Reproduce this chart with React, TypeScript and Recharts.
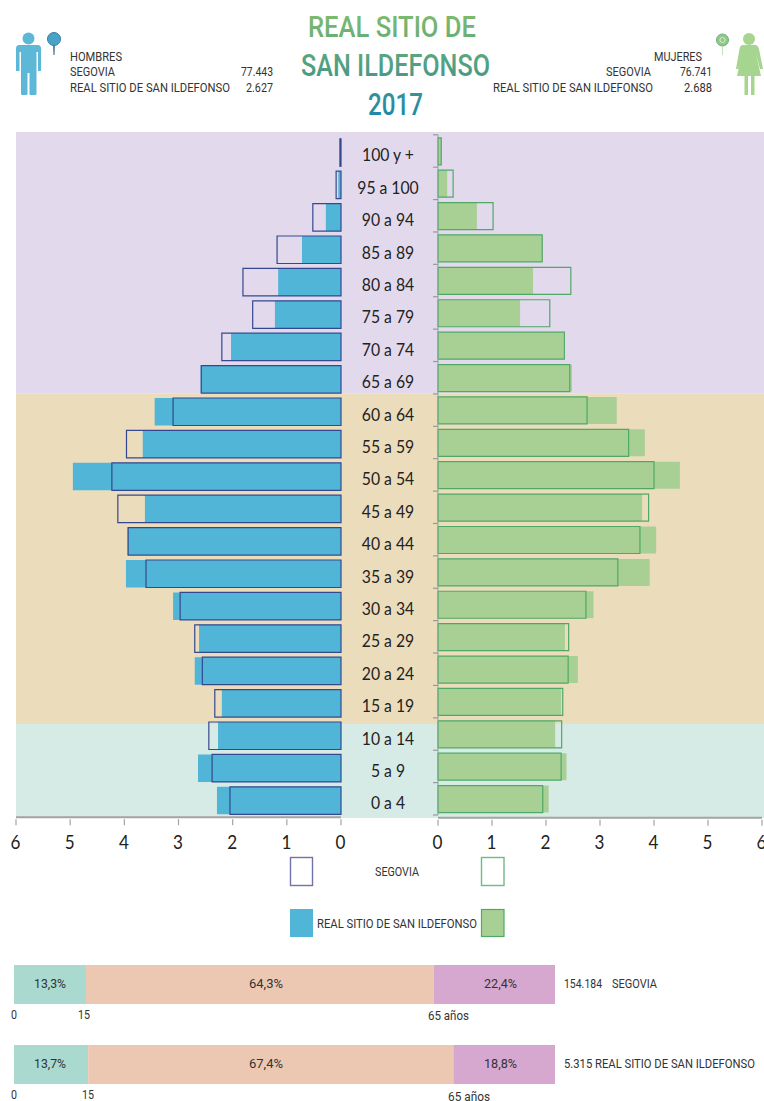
import React from 'react';
import { BarChart, Bar, XAxis, YAxis, ReferenceArea, ComposedChart } from 'recharts';

const AGES = ['100 y +','95 a 100','90 a 94','85 a 89','80 a 84','75 a 79','70 a 74','65 a 69','60 a 64','55 a 59','50 a 54','45 a 49','40 a 44','35 a 39','30 a 34','25 a 29','20 a 24','15 a 19','10 a 14','5 a 9','0 a 4'];
const MEN_LOCAL = [0.01,0.05,0.28,0.72,1.16,1.22,2.03,2.59,3.44,3.66,4.95,3.62,3.94,3.97,3.1,2.62,2.7,2.2,2.27,2.64,2.29];
const MEN_PROV = [0.02,0.09,0.52,1.18,1.81,1.63,2.2,2.58,3.1,3.96,4.23,4.12,3.93,3.6,2.97,2.7,2.56,2.33,2.44,2.38,2.05];
const WOMEN_LOCAL = [0.06,0.17,0.72,1.93,1.76,1.52,2.33,2.48,3.31,3.83,4.48,3.78,4.04,3.92,2.88,2.35,2.59,2.28,2.17,2.38,2.05];
const WOMEN_PROV = [0.06,0.28,1.02,1.93,2.46,2.07,2.34,2.44,2.76,3.53,4.0,3.9,3.74,3.33,2.74,2.42,2.41,2.31,2.29,2.28,1.94];
const X_TICKS = [0,1,2,3,4,5,6];
const BAND_EDGES = [0,2.88,13,21];
const BAND_COLORS = ['#d7ebe6','#ebdcbc','#e2daec'];
const STRUCT_NAMES = ['SEGOVIA','REAL SITIO'];
const STRUCT_YOUNG = [13.3,13.7];
const STRUCT_ADULT = [64.3,67.5];
const STRUCT_OLD = [22.4,18.8];
const STRUCT_LABELS = [['13,3%','64,3%','22,4%'],['13,7%','67,4%','18,8%']];

const pyramid = (a: number[], b: number[]) => AGES.map((age, i) => ({ age, local: a[i], prov: b[i] }));
const menData = pyramid(MEN_LOCAL, MEN_PROV);
const womenData = pyramid(WOMEN_LOCAL, WOMEN_PROV);
const structData = STRUCT_NAMES.map((name, i) => ({ name, young: STRUCT_YOUNG[i], adult: STRUCT_ADULT[i], old: STRUCT_OLD[i] }));
const bandData = [{ x: 0 }, { x: 1 }];

const FONT = 'Roboto, sans-serif';
const NUM = 'Lato, sans-serif';
const full = { position: 'absolute' as const };

function T({ x1, x2, y, s, c = '#333', w = 400, children, fill }: any) {
  return <text x={x1} y={y} fontFamily={FONT} fontSize={s} fontWeight={w} fill={fill || c} textLength={x2 - x1} lengthAdjust="spacingAndGlyphs">{children}</text>;
}

const bottomTick = (shift: number) => (p: any) => (
  <g>
    <line x1={p.x} x2={p.x} y1={p.y + shift} y2={p.y + shift + 6} stroke="#a3a3a3" strokeWidth={1.2} />
    <text transform={`translate(${p.x - 0.5},849) scale(0.9,1)`} textAnchor="middle" fontFamily={NUM} fontSize={19} fill="#222">{p.payload.value}</text>
  </g>
);

const BAND = 680 / 21;
const ageTick = (p: any) => (
  <g>
    {p.index === 0 && <line x1={p.x - 5} x2={p.x} y1={p.y - BAND / 2} y2={p.y - BAND / 2} stroke="#999" strokeWidth={1.2} />}
    <line x1={p.x - 5} x2={p.x} y1={p.y + BAND / 2} y2={p.y + BAND / 2} stroke="#999" strokeWidth={1.2} />
    <text transform={`translate(${p.x - 50},${p.y + 10.5}) scale(0.9,1)`} textAnchor="middle" fontFamily={NUM} fontSize={17.5} fill="#222">{p.payload.value}</text>
  </g>
);

function Man() {
  return (
    <g fill="#5cb8d6">
      <circle cx={28.5} cy={38.5} r={6} />
      <path d="M19 45 H38 Q41 45 41 49 V71 H38 V52 H36.5 V94 Q36.5 95 35 95 H30.5 Q29.5 95 29.5 94 V73 H27.5 V94 Q27.5 95 26 95 H22 Q21 95 21 94 V52 H19.5 V71 H16 V49 Q16 45 19 45 Z" />
      <circle cx={54} cy={39} r={6.5} fill="#4aa3c7" stroke="#2f7fa8" strokeWidth={1} />
      <path d="M53 45 H55 L54.6 55 H53.4 Z" fill="#4f7f9a" />
    </g>
  );
}
function Woman() {
  return (
    <g fill="#a6d58f">
      <circle cx={749} cy={39} r={6} />
      <path d="M743 45 H755 Q758 45 759 49 L763 69 H760 L756 54 L761 76 H754.5 V95 H751 V76 H748 V95 H744.5 V76 H737 L742 54 L738.5 69 H736 L739.5 49 Q740 45 743 45 Z" />
      <circle cx={722.5} cy={40} r={6} fill="#8fc98a" stroke="#6fb27a" strokeWidth={1} />
      <circle cx={722.5} cy={40} r={2.6} fill="none" stroke="#d5ecd0" strokeWidth={1} />
      <path d="M722.2 46 H723 V55 H722.2 Z" fill="#b7d9b0" />
    </g>
  );
}

export default function App() {
  return (
    <div style={{ position: 'absolute', left: 0, top: 0, width: 764, height: 1101, overflow: 'hidden', background: '#fff' }}>
      <div style={{ ...full, left: 16, top: 132 }}>
        <ComposedChart width={748} height={686} data={bandData} margin={{ top: 0, right: 0, bottom: 0, left: 0 }}>
          <XAxis type="number" dataKey="x" domain={[0, 1]} allowDataOverflow hide />
          <YAxis type="number" domain={[0, 21]} allowDataOverflow hide />
          {BAND_COLORS.map((c, i) => (
            <ReferenceArea key={c} x1={0} x2={1} y1={BAND_EDGES[i]} y2={BAND_EDGES[i + 1]} fill={c} fillOpacity={1} stroke="none" />
          ))}
        </ComposedChart>
      </div>

      <div style={{ ...full, left: 0, top: 0 }}>
        <BarChart width={360} height={860} layout="vertical" data={menData} barSize={27.5} barGap={-27.5}
          margin={{ top: 136.8, right: 19, bottom: 12.8, left: 16 }}>
          <XAxis type="number" reversed domain={[0, 6]} ticks={X_TICKS} interval={0} height={30} tickSize={0}
            axisLine={{ stroke: '#a3a3a3', strokeWidth: 2 }} tickLine={false} tick={bottomTick(0)} />
          <YAxis type="category" dataKey="age" hide />
          <Bar dataKey="local" fill="#50b5d6" isAnimationActive={false} />
          <Bar dataKey="prov" fill="none" stroke="#34488f" strokeWidth={1.2} isAnimationActive={false} />
        </BarChart>
      </div>

      <div style={{ ...full, left: 340, top: 0 }}>
        <BarChart width={424} height={860} layout="vertical" data={womenData} barSize={27} barGap={-27}
          margin={{ top: 134.8, right: 2, bottom: 15, left: 0 }}>
          <XAxis type="number" domain={[0, 6]} ticks={X_TICKS} interval={0} height={30} tickSize={0}
            axisLine={{ stroke: '#a3a3a3', strokeWidth: 2, transform: 'translate(0,2.7)' }} tickLine={false} tick={bottomTick(2.7)} />
          <YAxis type="category" dataKey="age" width={98} interval={0} tickSize={0} tickMargin={0}
            axisLine={{ stroke: '#7fae8f', strokeWidth: 1 }} tickLine={false} tick={ageTick} />
          <Bar dataKey="local" fill="#a9d094" isAnimationActive={false} />
          <Bar dataKey="prov" fill="none" stroke="#4fa866" strokeWidth={1.2} isAnimationActive={false} />
        </BarChart>
      </div>

      <div style={{ ...full, left: 0, top: 944 }}>
        <BarChart width={600} height={160} layout="vertical" data={structData} barSize={39}
          margin={{ top: 0, right: 45, bottom: 0, left: 14 }}>
          <XAxis type="number" domain={[0, 100]} hide />
          <YAxis type="category" dataKey="name" hide />
          <Bar dataKey="young" stackId="s" fill="#a9d9cf" isAnimationActive={false} />
          <Bar dataKey="adult" stackId="s" fill="#ecc8b2" isAnimationActive={false} />
          <Bar dataKey="old" stackId="s" fill="#d6a8cf" isAnimationActive={false} />
        </BarChart>
      </div>

      <svg width={764} height={1101} style={{ ...full, left: 0, top: 0, pointerEvents: 'none' }}>
        <defs>
          <linearGradient id="tg" gradientUnits="userSpaceOnUse" x1={0} y1={14} x2={0} y2={116}>
            <stop offset="0" stopColor="#7dbb6c" />
            <stop offset="0.55" stopColor="#4d9d84" />
            <stop offset="1" stopColor="#1f88a8" />
          </linearGradient>
        </defs>
        <T x1={308} x2={476} y={37} s={29} w={500} fill="url(#tg)">REAL SITIO DE</T>
        <T x1={301} x2={490} y={76} s={32} w={500} fill="url(#tg)">SAN ILDEFONSO</T>
        <T x1={368} x2={423} y={115} s={31} w={500} fill="url(#tg)">2017</T>

        <Man />
        <Woman />
        <T x1={70} x2={122} y={60.5} s={13}>HOMBRES</T>
        <T x1={70} x2={115} y={76} s={13}>SEGOVIA</T>
        <T x1={70} x2={230} y={92} s={13}>REAL SITIO DE SAN ILDEFONSO</T>
        <T x1={241} x2={273} y={76} s={13}>77.443</T>
        <T x1={246} x2={273} y={92} s={13}>2.627</T>
        <T x1={654} x2={702} y={60.5} s={13}>MUJERES</T>
        <T x1={606} x2={651} y={76} s={13}>SEGOVIA</T>
        <T x1={493} x2={653} y={92} s={13}>REAL SITIO DE SAN ILDEFONSO</T>
        <T x1={680} x2={712} y={76} s={13}>76.741</T>
        <T x1={684} x2={712} y={92} s={13}>2.688</T>

        <rect x={290.5} y={857.5} width={22} height={28} fill="#fff" stroke="#6f73aa" strokeWidth={1.4} />
        <rect x={481.5} y={857.5} width={22.5} height={28} fill="#fff" stroke="#6dbb87" strokeWidth={1.4} />
        <T x1={375} x2={419} y={876} s={13}>SEGOVIA</T>
        <rect x={290} y={909} width={23} height={28} fill="#50b5d6" />
        <rect x={481.5} y={909.5} width={22.5} height={27} fill="#a9d094" stroke="#4fa866" strokeWidth={1.2} />
        <T x1={317} x2={477} y={928} s={13}>REAL SITIO DE SAN ILDEFONSO</T>

        {STRUCT_LABELS.map((row, r) => (
          <g key={r}>
            <T x1={34} x2={66} y={988 + 80 * r} s={13}>{row[0]}</T>
            <T x1={249} x2={283} y={988 + 80 * r} s={13}>{row[1]}</T>
            <T x1={484} x2={517} y={988 + 80 * r} s={13}>{row[2]}</T>
          </g>
        ))}
        <T x1={564} x2={602} y={988} s={13}>154.184</T>
        <T x1={612} x2={657} y={988} s={13}>SEGOVIA</T>
        <T x1={564} x2={755} y={1068} s={13}>5.315 REAL SITIO DE SAN ILDEFONSO</T>
        <T x1={11} x2={17} y={1019} s={13}>0</T>
        <T x1={78} x2={90} y={1019} s={13}>15</T>
        <T x1={428} x2={469} y={1020} s={13}>65 años</T>
        <T x1={11} x2={17} y={1099} s={13}>0</T>
        <T x1={82} x2={94} y={1099} s={13}>15</T>
        <T x1={448} x2={490} y={1101} s={13}>65 años</T>
      </svg>
    </div>
  );
}
